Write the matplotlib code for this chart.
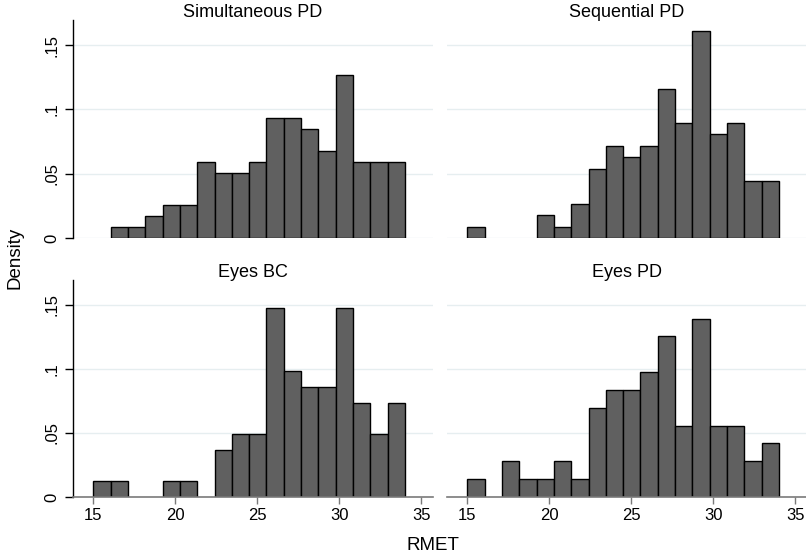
import numpy as np
import matplotlib.pyplot as plt

plt.rcParams['font.family'] = ['Liberation Sans', 'DejaVu Sans']

# histogram bins (Stata default: 18 bins from 15 to 34)
edges = np.linspace(15, 34, 19)

titles = ['Simultaneous PD', 'Sequential PD', 'Eyes BC', 'Eyes PD']

sim_pd = [0, .0085, .0085, .0169, .0254, .0254, .0592, .0508, .0508, .0592,
          .0931, .0931, .0846, .0677, .1269, .0592, .0592, .0592]
seq_pd = [.0089, 0, 0, 0, .0179, .0089, .0268, .0536, .0715, .0626,
          .0715, .1162, .0894, .1609, .0805, .0894, .0447, .0447]
eyes_bc = [.0123, .0123, 0, 0, .0123, .0123, 0, .0369, .0492, .0492,
           .1476, .0984, .0861, .0861, .1476, .0738, .0492, .0738]
eyes_pd = [.0139, 0, .0279, .0139, .0139, .0279, .0139, .0697, .0836, .0836,
           .0975, .1254, .0557, .1393, .0557, .0557, .0279, .0418]

series = [sim_pd, seq_pd, eyes_bc, eyes_pd]

fig = plt.figure(figsize=(8.06, 5.57), dpi=100)
W, H = 806, 557

# panel boxes in pixels: left, top, right, bottom
boxes = [(73, 20, 433, 238), (447, 20, 807, 238),
         (73, 280, 433, 497), (447, 280, 807, 497)]

xmin, xmax = 13.76, 35.71
ymax = 0.1695
grid_col = '#e6eef0'
bw = edges[1] - edges[0]

for i, (vals, title, box) in enumerate(zip(series, titles, boxes)):
    l, t, r, b = box
    ax = fig.add_axes([l / W, 1 - b / H, (r - l) / W, (b - t) / H])
    ax.set_xlim(xmin, xmax)
    ax.set_ylim(0, ymax)
    for y in [0, .05, .1, .15]:
        ax.axhline(y, color=grid_col, lw=1, zorder=0)
    vals = np.array(vals)
    keep = vals > 0
    ax.bar(edges[:-1][keep], vals[keep], width=bw, align='edge',
           color='#606060', edgecolor='black', linewidth=1.0, zorder=2)
    for s in ['top', 'right']:
        ax.spines[s].set_visible(False)
    left_col = i % 2 == 0
    bottom_row = i >= 2
    ax.spines['left'].set_visible(left_col)
    ax.spines['left'].set_color('black')
    ax.spines['left'].set_linewidth(1)
    ax.spines['bottom'].set_visible(bottom_row)
    ax.spines['bottom'].set_color('#7a7a7a')
    ax.spines['bottom'].set_linewidth(1.2)
    ax.set_yticks([0, .05, .1, .15])
    if left_col:
        ax.set_yticklabels(['0', '.05', '.1', '.15'], rotation=90,
                           va='center', fontsize=12)
        ax.tick_params(axis='y', length=6, width=1, color='black', pad=4)
    else:
        ax.tick_params(axis='y', left=False, labelleft=False)
    ax.set_xticks([15, 20, 25, 30, 35])
    if bottom_row:
        ax.tick_params(axis='x', length=5, width=1, color='#7a7a7a',
                       labelsize=12, pad=3)
    else:
        ax.tick_params(axis='x', bottom=False, labelbottom=False)
    ax.set_title(title, fontsize=13, pad=2, y=1.0)

fig.text(15 / W, 1 - 258 / H, 'Density', rotation=90, ha='center',
         va='center', fontsize=13.5)
fig.text(433 / W, 1 - 545 / H, 'RMET', ha='center', va='center',
         fontsize=13.5)

fig.savefig('out.png', dpi=100, facecolor='white')
